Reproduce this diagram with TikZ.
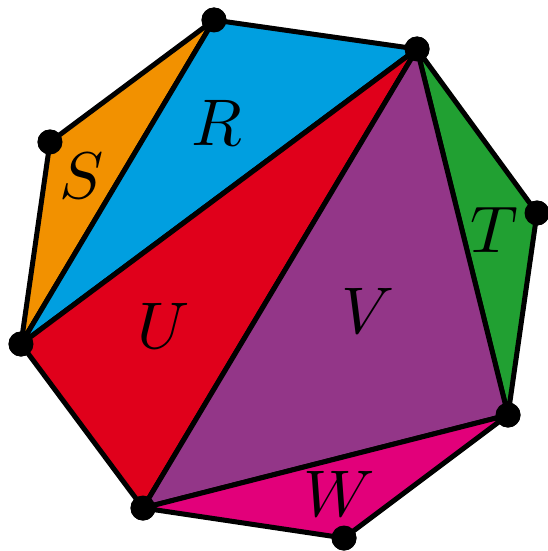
\documentclass[tikz,border=0pt]{standalone}
\usepackage{graphicx}
\usepackage{tikz}
\definecolor{sorange}{HTML}{F29100}
\definecolor{rblue}{HTML}{009FE0}
\definecolor{tgreen}{HTML}{21A032}
\definecolor{ured}{HTML}{E0001B}
\definecolor{vpurple}{HTML}{933688}
\definecolor{wmagenta}{HTML}{E2007A}
\newcommand{\facelab}[1]{\scalebox{6.6}{$#1$}}

\begin{document}
\begin{tikzpicture}[
  x=1pt, y=-1pt,
  vtx/.style={circle, fill=black, inner sep=0pt, minimum size=25pt},
  tri/.style={draw=black, line width=5pt, line join=round},
  lab/.style={inner sep=0pt},
]
\useasboundingbox (0,0) rectangle (548,551);
% polygon corners (clockwise from the top)
\node[vtx] (a) at (214, 20) {};
\node[vtx] (b) at (417, 49) {};
\node[vtx] (c) at (537,213) {};
\node[vtx] (d) at (508,415) {};
\node[vtx] (e) at (344,538) {};
\node[vtx] (f) at (143,508) {};
\node[vtx] (g) at ( 21,344) {};
\node[vtx] (h) at ( 50,142) {};
% triangulation faces
\draw[tri, fill=sorange]  (h.center) -- (a.center) -- (g.center) -- cycle;
\draw[tri, fill=rblue]    (a.center) -- (b.center) -- (g.center) -- cycle;
\draw[tri, fill=tgreen]   (b.center) -- (c.center) -- (d.center) -- cycle;
\draw[tri, fill=ured]     (g.center) -- (b.center) -- (f.center) -- cycle;
\draw[tri, fill=vpurple]  (b.center) -- (d.center) -- (f.center) -- cycle;
\draw[tri, fill=wmagenta] (f.center) -- (d.center) -- (e.center) -- cycle;
% corners again on top of the faces
\foreach \v in {a,b,c,d,e,f,g,h}
  \fill (\v) circle (12.5);
% face names
\node[lab] (lr) at (217,123) {\facelab{R}};
\node[lab] (ls) at ( 82,176) {\facelab{S}};
\node[lab] (lt) at (494,230) {\facelab{T}};
\node[lab] (lu) at (164,326) {\facelab{U}};
\node[lab] (lv) at (368,311) {\facelab{V}};
\node[lab] (lw) at (339,494) {\facelab{W}};
\end{tikzpicture}
\end{document}
